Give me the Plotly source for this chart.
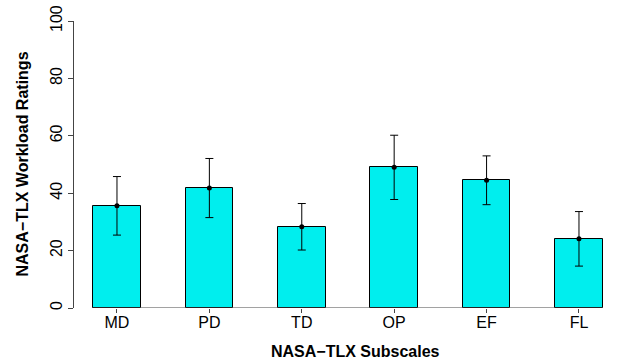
import plotly.graph_objects as go

categories = ["MD", "PD", "TD", "OP", "EF", "FL"]
means = [35.6, 41.8, 28.3, 49.0, 44.5, 24.1]
errors = [10.2, 10.3, 8.1, 11.2, 8.5, 9.5]
y_ticks = [0, 20, 40, 60, 80, 100]

positions = list(range(len(categories)))
bar_width = 0.515

fig = go.Figure()
fig.add_trace(go.Bar(
    x=positions, y=means, width=bar_width,
    marker=dict(color="#00EEEE", line=dict(color="black", width=1)),
    showlegend=False, hoverinfo="skip",
))
fig.add_trace(go.Scatter(
    x=positions, y=means, mode="markers",
    marker=dict(color="black", size=5),
    error_y=dict(type="data", array=errors, visible=True, color="black", thickness=1, width=4),
    showlegend=False,
))
# baseline under the bars
fig.add_shape(type="line", xref="x", yref="y",
              x0=positions[0] - bar_width / 2, x1=positions[-1] + bar_width / 2,
              y0=0, y1=0, line=dict(color="#444", width=1))

font = "Liberation Sans, Arial, Helvetica, sans-serif"
fig.update_layout(
    width=620, height=362,
    margin=dict(l=74, r=0, t=21, b=54),
    plot_bgcolor="white", paper_bgcolor="white",
    font=dict(family=font, size=16, color="black"),
    bargap=0,
    xaxis=dict(
        range=[-0.465, 5.444], tickmode="array", tickvals=positions, ticktext=categories,
        showline=False, showgrid=False, zeroline=False, automargin=False,
        ticks="outside", ticklen=4, tickcolor="#444", tickfont=dict(size=16),
        ticklabelstandoff=-4,
    ),
    yaxis=dict(
        range=[0, 100], tickmode="array", tickvals=y_ticks,
        showline=True, linecolor="#444", linewidth=1, mirror=False,
        showgrid=False, zeroline=False, automargin=False,
        ticks="outside", ticklen=5, tickcolor="#444", tickangle=-90, tickfont=dict(size=16),
    ),
    annotations=[
        dict(text="<b>NASA\u2212TLX Subscales</b>", xref="paper", yref="paper",
             x=0.515, y=-0.151, xanchor="center", yanchor="middle", showarrow=False,
             font=dict(size=16)),
        dict(text="<b>NASA\u2212TLX Workload Ratings</b>", xref="paper", yref="paper",
             x=-0.0952, y=0.5, xanchor="center", yanchor="middle", showarrow=False,
             textangle=-90, font=dict(size=16)),
    ],
)

fig.write_html("out.html", config={"displayModeBar": False},
               post_script="document.body.style.margin='0';document.body.style.overflow='hidden';")
